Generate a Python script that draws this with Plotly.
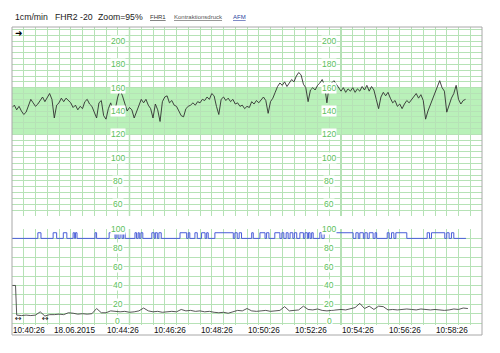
import plotly.graph_objects as go

# ---------------- data ----------------
# FHR2 trace, one value every 6 s from 10:40:26
fhr = [143,145,141,144,140,137,139,145,150,147,
       144,146,149,152,148,151,155,150,134,145,
       147,151,148,151,149,147,143,145,141,144,
       142,148,150,146,144,138,134,147,149,136,
       133,142,147,140,142,152,158,153,146,140,
       143,141,134,140,146,150,147,150,145,142,
       134,146,141,131,148,152,153,147,149,145,
       144,140,136,135,142,144,145,147,145,148,
       147,150,149,152,150,155,153,144,137,150,
       152,149,151,148,150,146,147,144,145,142,
       144,143,148,146,149,147,150,152,149,138,
       148,151,156,161,164,162,165,161,164,167,
       165,170,173,171,163,160,148,158,160,158,
       162,164,167,162,147,162,164,166,163,160,
       157,160,156,159,157,160,156,159,157,161,
       158,162,157,161,158,150,142,152,156,153,
       156,151,147,149,144,146,142,146,149,147,
       150,152,155,151,154,149,133,140,145,150,
       156,161,166,160,157,139,146,151,155,162,
       150,146,149,150]
fhr_step_s = 6
fhr_t = [i * fhr_step_s for i in range(len(fhr))]

# Kontraktionsdruck (toco) trace
toco_t = [0, 9] + [12 * k for k in range(1, 98)]
toco = [40, 40,
        8.5, 8, 8.5, 8, 8.5, 12, 7.5, 9, 9, 9.5,
        9, 11, 10.5, 9.5, 10, 9.5, 10, 15.5, 11, 11,
        13, 12.5, 12, 12.5, 11.5, 12, 13, 16, 13, 12,
        12.5, 11.5, 12, 12.5, 12, 14.5, 13, 13.5, 12.5, 13,
        12, 12.5, 11.5, 11, 11.5, 10.5, 12, 13.5, 13, 15.5,
        13, 12.5, 13, 13.5, 12.5, 13, 13.5, 17.5, 13, 13.5,
        14, 18, 14.5, 14, 15, 13.5, 13, 13.5, 14, 14.5,
        14, 15, 16.5, 21, 15.5, 18, 14.5, 18, 17.5, 14,
        14.5, 14, 14.5, 15, 14.5, 14, 15, 14.5, 14, 14.5,
        14, 13.5, 14, 15, 14.5, 16, 15.5]

# AFM (fetal movement) pulses: (start s, end s)
afm_base, afm_high = 90, 96
afm_end_s = 1159
afm_pulses = [(66, 74), (105, 114), (131, 140), (156, 160), (162, 166), (212, 216),
              (248, 263), (266, 271), (276, 281), (285, 289),
              (314, 318), (322, 325), (329, 334),
              (357, 363), (366, 371), (375, 381),
              (429, 446), (450, 454), (467, 473), (484, 493), (497, 501),
              (518, 565), (569, 575), (580, 586),
              (612, 616), (633, 646), (650, 656), (671, 684), (689, 694), (700, 705),
              (710, 717), (721, 727), (735, 744), (748, 754), (757, 761), (765, 769),
              (786, 791), (797, 871), (878, 884), (888, 897), (901, 907), (912, 922),
              (927, 931), (958, 963), (969, 975), (980, 1008),
              (1060, 1066), (1071, 1105), (1110, 1116), (1122, 1128)]

fhr_labels = [60, 80, 100, 120, 140, 160, 180, 200]
toco_labels = [0, 20, 40, 60, 80, 100]
label_cols_s = [270, 810]
strong_cols_s = [300, 840]
band = (120, 160)

time_ticks_s = [0, 240, 360, 480, 600, 720, 840, 960, 1080]
time_labels = ["10:40:26", "10:44:26", "10:46:26", "10:48:26", "10:50:26",
               "10:52:26", "10:54:26", "10:56:26", "10:58:26"]
date_label = "18.06.2015"
date_pos_s = 101

header = [("1cm/min", 0.002), ("FHR2 -20", 0.087), ("Zoom=95%", 0.179)]
links = [("FHR1", 0.289, "#333333"), ("Kontraktionsdruck", 0.340, "#555555"), ("AFM", 0.466, "#2a3fa0")]

# ---------------- build ----------------
afm_x, afm_y = [0], [afm_base]
for s, e in afm_pulses:
    afm_x += [s, s, e, e]
    afm_y += [afm_base, afm_high, afm_high, afm_base]
afm_x.append(afm_end_s)
afm_y.append(afm_base)

GRID = "#b6e2b6"
GREEN_TXT = "#5cbf5c"
FONT = "Liberation Sans"

fig = go.Figure()
fig.add_trace(go.Scatter(x=fhr_t, y=fhr, mode="lines", line=dict(color="#303030", width=0.9),
                         xaxis="x", yaxis="y", hoverinfo="skip"))
fig.add_trace(go.Scatter(x=afm_x, y=afm_y, mode="lines", line=dict(color="#4a5ed8", width=1),
                         xaxis="x2", yaxis="y2", hoverinfo="skip"))
fig.add_trace(go.Scatter(x=toco_t, y=toco, mode="lines", line=dict(color="#444444", width=0.9),
                         xaxis="x2", yaxis="y2", hoverinfo="skip"))

ax_common = dict(range=[0, 1200], dtick=30, tick0=0, showgrid=True, gridcolor=GRID, gridwidth=1,
                 showticklabels=False, zeroline=False, showline=False, ticks="", fixedrange=True)
fig.update_layout(
    width=500, height=353,
    margin=dict(l=12, r=18, t=27, b=18),
    paper_bgcolor="white", plot_bgcolor="white",
    showlegend=False,
    font=dict(family=FONT, size=8, color="#222222"),
    xaxis=dict(domain=[0, 1], anchor="y", **ax_common),
    xaxis2=dict(domain=[0, 1], anchor="y2", matches="x", **ax_common),
    yaxis=dict(domain=[0.3864, 1], range=[50, 212], dtick=5, tick0=50, showgrid=True, gridcolor=GRID,
               showticklabels=False, zeroline=False, showline=False, ticks="", fixedrange=True),
    yaxis2=dict(domain=[0.0325, 0.3442], range=[-2, 100], dtick=10, tick0=0, showgrid=True, gridcolor=GRID,
                showticklabels=False, zeroline=False, showline=False, ticks="", fixedrange=True),
)

shapes = []
shapes.append(dict(type="rect", xref="x", yref="y", x0=0, x1=1200, y0=band[0], y1=band[1],
                   fillcolor="#b9f1b9", line=dict(width=0), layer="below"))
for s in strong_cols_s:
    for yr in ["y domain", "y2 domain"]:
        shapes.append(dict(type="line", xref="x", yref=yr, x0=s, x1=s, y0=0, y1=1,
                           line=dict(color="#8fd08f", width=1.3), layer="below"))
shapes.append(dict(type="rect", xref="paper", yref="paper", x0=0, x1=1, y0=0, y1=1,
                   line=dict(color="#a8a8a8", width=1), fillcolor="rgba(0,0,0,0)"))
fig.update_layout(shapes=shapes)

ann = []
for c in label_cols_s:
    for v in fhr_labels:
        ann.append(dict(x=c, y=v, xref="x", yref="y", text=str(v), showarrow=False,
                        font=dict(size=8.5, color=GREEN_TXT), bgcolor="white", borderpad=0))
    for v in toco_labels:
        ann.append(dict(x=c, y=v, xref="x2", yref="y2", text=str(v), showarrow=False,
                        yshift=2 if v == 0 else 0,
                        font=dict(size=8.5, color=GREEN_TXT), bgcolor="white", borderpad=0))
for t, lab in zip(time_ticks_s, time_labels):
    ann.append(dict(x=t, y=0.013, xref="x", yref="paper", text=lab, showarrow=False,
                    xanchor="left", yanchor="middle", xshift=-1, font=dict(size=8.2, color="#111111")))
ann.append(dict(x=date_pos_s, y=0.013, xref="x", yref="paper", text=date_label, showarrow=False,
                xanchor="left", yanchor="middle", font=dict(size=8.2, color="#111111")))
for txt, xp in header:
    ann.append(dict(x=xp, y=1.034, xref="paper", yref="paper", text=txt, showarrow=False,
                    xanchor="left", yanchor="middle", font=dict(size=8.7, color="#1a1a1a")))
for txt, xp, col in links:
    ann.append(dict(x=xp, y=1.034, xref="paper", yref="paper",
                    text="<span style='text-decoration:underline'>%s</span>" % txt, showarrow=False,
                    xanchor="left", yanchor="middle", font=dict(size=6, color=col)))
ann.append(dict(x=0.0015, y=0.979, xref="paper", yref="paper", text="➜", showarrow=False,
                xanchor="left", yanchor="middle", font=dict(size=9, color="black", family="DejaVu Sans")))
for t in [16, 86]:
    ann.append(dict(x=t, y=5, xref="x2", yref="y2", text="↔", showarrow=False,
                    font=dict(size=8, color="#222222", family="DejaVu Sans")))
fig.update_layout(annotations=ann)

fig.write_html("out.html")
